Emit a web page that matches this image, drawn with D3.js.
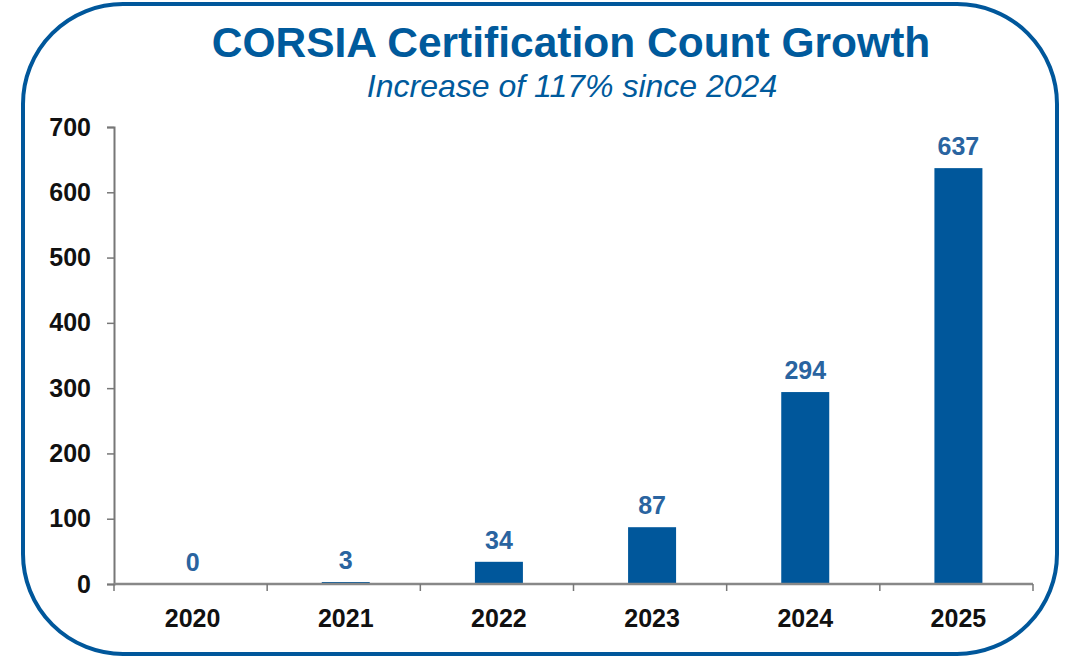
<!DOCTYPE html>
<html>
<head>
<meta charset="utf-8">
<script src="https://cdn.jsdelivr.net/npm/d3@7"></script>
<style>
  body { margin: 0; background: #fff; }
  svg { display: block; font-family: "Liberation Sans", Arial, sans-serif; }
</style>
</head>
<body>
<div id="chart"></div>
<script>
// data
const years = ["2020", "2021", "2022", "2023", "2024", "2025"];
const counts = [0, 3, 34, 87, 294, 637];
const yTicks = [0, 100, 200, 300, 400, 500, 600, 700];

const W = 1069, H = 658;
const margin = { top: 127, right: 36, bottom: 74, left: 114 };
const width = W - margin.left - margin.right;
const height = H - margin.top - margin.bottom;

const blue = "#00579b";

const svg = d3.select("#chart")
  .append("svg")
  .attr("width", W)
  .attr("height", H);

// rounded frame
svg.append("rect")
  .attr("x", 23).attr("y", 4)
  .attr("width", 1034).attr("height", 650)
  .attr("rx", 100).attr("ry", 100)
  .attr("fill", "#fff")
  .attr("stroke", blue)
  .attr("stroke-width", 4);

// titles
svg.append("text")
  .attr("x", 571).attr("y", 57)
  .attr("text-anchor", "middle")
  .attr("font-size", 42.5)
  .attr("font-weight", "bold")
  .attr("fill", "#005a9c")
  .text("CORSIA Certification Count Growth");

svg.append("text")
  .attr("x", 572).attr("y", 97)
  .attr("text-anchor", "middle")
  .attr("font-size", 32)
  .attr("font-style", "italic")
  .attr("fill", "#005a9c")
  .text("Increase of 117% since 2024");

const g = svg.append("g")
  .attr("transform", `translate(${margin.left},${margin.top})`);

const x = d3.scaleBand().domain(years).range([0, width]).paddingInner(0).paddingOuter(0);
const y = d3.scaleLinear().domain([0, 700]).range([height, 0]);

// y axis
const yAxis = g.append("g")
  .call(d3.axisLeft(y).tickValues(yTicks).tickSize(7).tickPadding(16));
yAxis.select(".domain").attr("stroke", "#777").attr("stroke-width", 2);
yAxis.selectAll(".tick line").attr("stroke", "#777").attr("stroke-width", 1.5);
yAxis.selectAll(".tick text")
  .attr("font-size", 25).attr("font-weight", "bold")
  .attr("fill", "#111")
  .attr("font-family", "Liberation Sans, Arial, sans-serif");

// bars
const barW = 48;
g.selectAll("rect.bar")
  .data(counts)
  .enter()
  .append("rect")
  .attr("class", "bar")
  .attr("x", (d, i) => x(years[i]) + x.bandwidth() / 2 - barW / 2 + 2)
  .attr("y", d => y(d))
  .attr("width", barW)
  .attr("height", d => height - y(d))
  .attr("fill", blue);

// x axis with boundary ticks
const xAxisG = g.append("g").attr("transform", `translate(0,${height})`);
xAxisG.append("line")
  .attr("x1", 0).attr("x2", width)
  .attr("stroke", "#888").attr("stroke-width", 2.5);
xAxisG.selectAll("line.bound")
  .data(d3.range(years.length + 1))
  .enter()
  .append("line")
  .attr("class", "bound")
  .attr("x1", i => i * x.step())
  .attr("x2", i => i * x.step())
  .attr("y1", 0).attr("y2", 7)
  .attr("stroke", "#777").attr("stroke-width", 1.5);
xAxisG.selectAll("text")
  .data(years)
  .enter()
  .append("text")
  .attr("x", d => x(d) + x.bandwidth() / 2 + 2)
  .attr("y", 43)
  .attr("text-anchor", "middle")
  .attr("font-size", 25).attr("font-weight", "bold")
  .attr("fill", "#111")
  .text(d => d);

// value labels
g.selectAll("text.val")
  .data(counts)
  .enter()
  .append("text")
  .attr("class", "val")
  .attr("x", (d, i) => x(years[i]) + x.bandwidth() / 2 + 2)
  .attr("y", d => y(d) - 13)
  .attr("text-anchor", "middle")
  .attr("font-size", 25).attr("font-weight", "bold")
  .attr("fill", "#2a64a0")
  .text(d => d);
</script>
</body>
</html>
